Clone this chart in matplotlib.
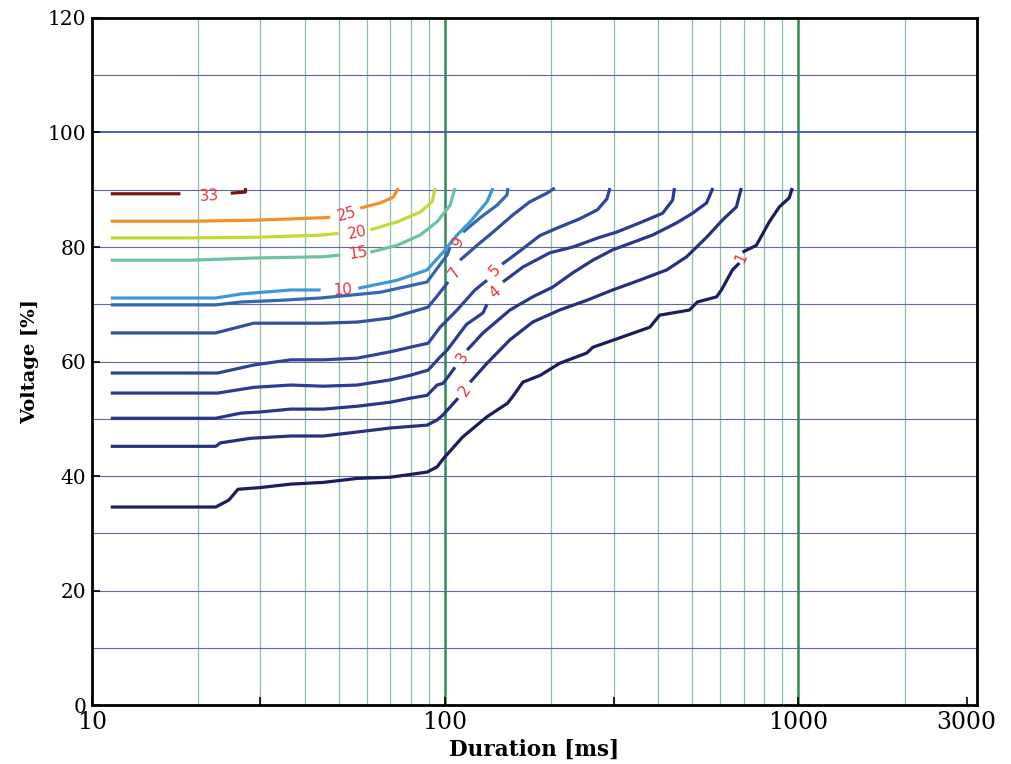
"""
plot.py - voltage dip contour chart (duration vs. residual voltage).
"""

import numpy as np
import matplotlib
matplotlib.use("Agg")
import matplotlib.pyplot as plt

nan = np.nan

# ── Data ─────────────────────────────────────────────────────────────────────

levels = [1, 2, 3, 4, 5, 7, 9, 10, 15, 20, 25, 33]

dur_1 = [11.3, 22.4, 24.4, 25.9, 30.0, 36.5, 45.2, 56.4, 69.9, 88.9, 94.9, 98.7,
         112, 131, 150, 155, 166, 186, 211, 252, 262, 298, 380, 405, 492, 518,
         587, 606, 651, 681, nan, 695, 761, 828, 884, 943, 962]
volt_1 = [34.6, 34.6, 35.8, 37.7, 38.0, 38.6, 38.9, 39.6, 39.8, 40.7, 41.6, 43.0,
          46.8, 50.3, 52.7, 53.8, 56.4, 57.6, 59.7, 61.5, 62.5, 63.7, 66.0, 68.1,
          69.0, 70.4, 71.3, 72.5, 76.0, 77.2, nan, 79.1, 80.3, 84.4, 87.0, 88.6, 90.3]

dur_2 = [11.3, 22.4, 23.1, 28.1, 36.5, 45.2, 56.4, 69.9, 88.9, 94.9, 98.7, 108.8,
         nan, 117.7, 131.4, 152.6, 177, 211, 252, 298, 355, 424, 483, 550, 610,
         668, 690]
volt_2 = [45.2, 45.2, 45.8, 46.6, 47.0, 47.0, 47.7, 48.4, 48.9, 49.8, 50.7, 53.6,
          nan, 56.4, 59.7, 63.8, 66.9, 69.0, 70.7, 72.5, 74.2, 76.0, 78.3, 81.7,
          84.7, 87.0, 90.3]

dur_3 = [11.3, 22.4, 26.4, 30.0, 36.5, 45.2, 56.4, 69.9, 79.6, 88.9, 94.9, 98.7,
         106.7, nan, 115.4, 128, 152.6, 177, 201.7, 230, 262, 298, 387, 452, 502,
         550, 573]
volt_3 = [50.1, 50.1, 51.0, 51.2, 51.7, 51.7, 52.2, 52.9, 53.6, 54.1, 55.9, 56.2,
          59.0, nan, 62.0, 65.0, 69.0, 71.3, 73.0, 75.5, 77.7, 79.5, 82.1, 84.2,
          85.9, 87.7, 90.3]

dur_4 = [11.3, 22.7, 28.7, 36.5, 45.2, 56.4, 69.9, 79.6, 89.5, 96.8, 101.3, 115,
         128, 131.4, nan, 145.8, 166, 198, 230, 274, 306, 355, 413, 441, 446]
volt_4 = [54.5, 54.5, 55.5, 55.9, 55.7, 55.9, 56.8, 57.6, 58.5, 60.8, 62.0, 66.5,
          68.5, 70.0, nan, 73.9, 76.5, 79.0, 80.0, 81.7, 82.6, 84.2, 85.9, 88.2, 90.3]

dur_5 = [11.3, 22.7, 28.7, 36.5, 45.2, 56.4, 69.9, 79.6, 89.5, 96.8, 108.1, 121.5,
         131.4, nan, 145, 162.8, 185.5, 211, 240, 270, 287, 293]
volt_5 = [58.0, 58.0, 59.4, 60.3, 60.3, 60.6, 61.7, 62.5, 63.2, 66.0, 69.0, 72.5,
          74.2, nan, 77.0, 79.3, 82.0, 83.5, 84.9, 86.5, 88.4, 90.3]

dur_7 = [11.3, 22.4, 28.7, 36.5, 45.2, 56.4, 69.9, 79.6, 89.5, 96.8, 102, nan,
         110.2, 123.2, 136.6, 155.5, 173.8, 194.2, 204.4]
volt_7 = [65.0, 65.0, 66.7, 66.7, 66.7, 66.9, 67.6, 68.6, 69.5, 72.1, 73.9, nan,
          77.7, 80.3, 82.6, 85.6, 87.9, 89.4, 90.3]

dur_9 = [11.3, 22.4, 26.4, 34.2, 44.4, 65.5, 88.9, 101.3, 103.3, nan, 112.4, 125.6,
         140.2, 149.7, 150.6]
volt_9 = [69.9, 69.9, 70.4, 70.7, 71.1, 72.1, 73.9, 78.6, 80.0, nan, 82.6, 85.1,
          87.3, 89.1, 90.3]

dur_10 = [11.3, 22.4, 26.4, 36.5, 44.4, nan, 56.8, 73.2, 88.9, 98.7, 108.1, 117.7,
          131.4, 136.6]
volt_10 = [71.1, 71.1, 71.8, 72.5, 72.5, nan, 72.8, 74.2, 76.0, 79.1, 82.1, 84.4,
           87.9, 90.3]

dur_15 = [11.3, 19, 29.4, 45.2, 50.5, nan, 61.4, 73.2, 85, 94.9, 103.3, 106.7]
volt_15 = [77.7, 77.7, 78.1, 78.3, 78.6, nan, 79.1, 80.3, 82.1, 84.4, 87.3, 90.3]

dur_20 = [11.3, 19, 29.4, 45.2, 49.9, nan, 61.4, 73.2, 85, 91.9, 93.7]
volt_20 = [81.6, 81.6, 81.7, 82.1, 82.4, nan, 83.0, 84.4, 86.1, 87.9, 90.3]

dur_25 = [11.3, 19, 29.4, 44.4, 47.3, nan, 57.5, 65.5, 71.3, 73.7]
volt_25 = [84.5, 84.5, 84.7, 85.1, 85.2, nan, 86.8, 87.7, 88.7, 90.3]

dur_33 = [11.3, 17.8, nan, 24.7, 27.2, 27.2]
volt_33 = [89.3, 89.3, nan, 89.4, 89.6, 90.3]

# inline label positions (duration, voltage) and text angle
label_dur = [690, 114, 111.7, 138.3, 138.3, 106.7, 108.8, 51.2, 56.8, 56.4, 52.9, 21.5]
label_volt = [78.1, 55.0, 60.7, 72.0, 76.0, 75.6, 81.0, 72.5, 79.0, 82.6, 85.8, 88.9]
label_rot = [65, 55, 58, 40, 45, 55, 62, 3, 8, 12, 15, 3]

x_ticks = [10, 30, 100, 300, 1000, 3000]
x_tick_labels = ["10", "", "100", "", "1000", "3000"]
y_ticks = [0, 20, 40, 60, 80, 100, 120]

# ── Styling ───────────────────────────────────────────────────────────────────

_COLOUR = {
    1:  "#1b1d5c",
    2:  "#27307e",
    3:  "#2a3688",
    4:  "#2c3c90",
    5:  "#2f4597",
    7:  "#33509f",
    9:  "#3566b2",
    10: "#3d98d6",
    15: "#6cc49e",
    20: "#c6d836",
    25: "#f0902a",
    33: "#7a1212",
}
LABEL_RED = "#e8343c"
GRID_V = "#8fbfa0"
GRID_V_MAJOR = "#2e8b57"
GRID_H = "#5f6b98"
GRID_H_MAJOR = "#4a5ac0"

series = {
    1: (dur_1, volt_1), 2: (dur_2, volt_2), 3: (dur_3, volt_3),
    4: (dur_4, volt_4), 5: (dur_5, volt_5), 7: (dur_7, volt_7),
    9: (dur_9, volt_9), 10: (dur_10, volt_10), 15: (dur_15, volt_15),
    20: (dur_20, volt_20), 25: (dur_25, volt_25), 33: (dur_33, volt_33),
}

# ── Figure ────────────────────────────────────────────────────────────────────

fig = plt.figure(figsize=(10.11, 7.64), dpi=100)
ax = fig.add_axes([0.091, 0.077, 0.875, 0.8995])
ax.set_xscale("log")
ax.set_xlim(10, 3200)
ax.set_ylim(0, 120)

# grid: thin green verticals at minor decades, thick at 100 / 1000
for dec in (10, 100, 1000):
    for k in range(2, 10):
        v = k * dec
        if v < 3000:
            ax.axvline(v, color=GRID_V, lw=0.9, zorder=1)
for v in (100, 1000):
    ax.axvline(v, color=GRID_V_MAJOR, lw=1.8, zorder=1)

for h in range(10, 120, 10):
    if h == 100:
        ax.axhline(h, color=GRID_H_MAJOR, lw=1.4, zorder=1)
    else:
        ax.axhline(h, color=GRID_H, lw=0.8, zorder=1)

# contour lines
for lev in levels:
    xs, ys = series[lev]
    ax.plot(xs, ys, color=_COLOUR[lev], lw=2.3, solid_capstyle="butt", zorder=3)

# inline level labels
for lev, lx, ly, rot in zip(levels, label_dur, label_volt, label_rot):
    ax.text(lx, ly, str(lev), color=LABEL_RED, fontsize=11, rotation=rot,
            ha="center", va="center", family="DejaVu Sans", zorder=4)

# axes cosmetics
for sp in ax.spines.values():
    sp.set_linewidth(2.0)
    sp.set_color("black")

ax.set_xticks(x_ticks)
ax.set_xticklabels(x_tick_labels)
ax.xaxis.set_minor_locator(matplotlib.ticker.NullLocator())
ax.set_yticks(y_ticks)
ax.tick_params(direction="in", length=6, width=1.2, pad=4)
for t in ax.get_xticklabels():
    t.set_family("DejaVu Serif")
    t.set_fontsize(17)
for t in ax.get_yticklabels():
    t.set_family("DejaVu Serif")
    t.set_fontsize(14.5)

ax.set_xlabel("Duration [ms]", family="DejaVu Serif", fontsize=15.5,
              fontweight="bold", labelpad=4)
ax.set_ylabel("Voltage [%]", family="DejaVu Serif", fontsize=14,
              fontweight="bold", labelpad=6)

fig.savefig("out.png", dpi=100)
